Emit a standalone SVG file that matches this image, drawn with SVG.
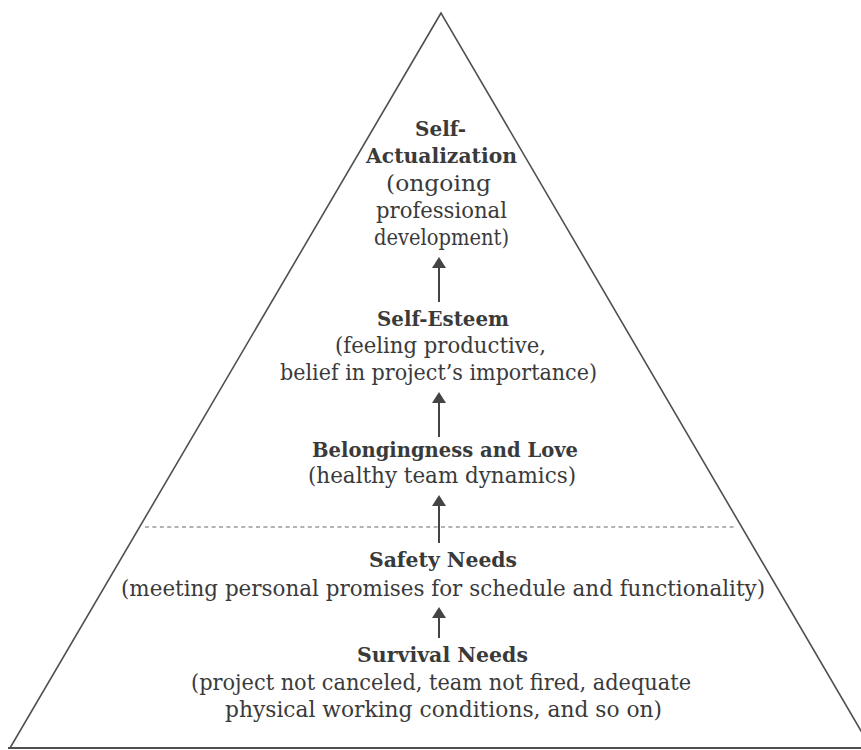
<svg xmlns="http://www.w3.org/2000/svg" width="861" height="750" viewBox="0 0 861 750">
  <style>
    .frame { fill: none; stroke: #505050; stroke-width: 1.6; stroke-linejoin: miter; }
    .base { stroke: #505050; stroke-width: 2.2; }
    .dash { stroke: #9a9a9a; stroke-width: 1.4; stroke-dasharray: 4 3.4; }
    .arrow { stroke: #444; stroke-width: 2; fill: none; }
    text { font-family: "DejaVu Serif", "Liberation Serif", serif; fill: #3a3a3a; text-anchor: middle; }
    .t { font-size: 22px; }
    .b { font-size: 21px; font-weight: bold; }
  </style>
  <defs>
    <marker id="head" markerUnits="userSpaceOnUse" viewBox="0 0 11 14" refX="0" refY="7" markerWidth="11" markerHeight="14" orient="auto">
      <path d="M0,0 L11,7 L0,14 z" fill="#444"/>
    </marker>
  </defs>
  <rect width="861" height="750" fill="#ffffff"/>
  <g id="pyramid">
    <polygon class="frame" points="441,13 10,748 871,748"/>
    <line class="base" x1="8" y1="748" x2="861" y2="748"/>
    <line class="dash" x1="145" y1="527" x2="736" y2="527"/>
  </g>
  <g id="connectors">
    <line class="arrow" x1="439" y1="302" x2="439" y2="268" marker-end="url(#head)"/>
    <line class="arrow" x1="439" y1="437" x2="439" y2="403" marker-end="url(#head)"/>
    <line class="arrow" x1="439" y1="543" x2="439" y2="506" marker-end="url(#head)"/>
    <line class="arrow" x1="439" y1="638" x2="439" y2="618" marker-end="url(#head)"/>
  </g>
  <g id="self-actualization">
    <text class="b" x="440.5" y="136" textLength="51" lengthAdjust="spacingAndGlyphs">Self-</text>
    <text class="b" x="441.5" y="163" textLength="151" lengthAdjust="spacingAndGlyphs">Actualization</text>
    <text class="t" x="438.5" y="191" textLength="105" lengthAdjust="spacingAndGlyphs">(ongoing</text>
    <text class="t" x="441.5" y="218" textLength="131" lengthAdjust="spacingAndGlyphs">professional</text>
    <text class="t" x="441.5" y="245" textLength="135" lengthAdjust="spacingAndGlyphs">development)</text>
  </g>
  <g id="self-esteem">
    <text class="b" x="443" y="326" textLength="132" lengthAdjust="spacingAndGlyphs">Self-Esteem</text>
    <text class="t" x="440.5" y="353" textLength="211" lengthAdjust="spacingAndGlyphs">(feeling productive,</text>
    <text class="t" x="438.5" y="380" textLength="317" lengthAdjust="spacingAndGlyphs">belief in project’s importance)</text>
  </g>
  <g id="belongingness">
    <text class="b" x="445" y="457" textLength="266" lengthAdjust="spacingAndGlyphs">Belongingness and Love</text>
    <text class="t" x="442" y="483" textLength="268" lengthAdjust="spacingAndGlyphs">(healthy team dynamics)</text>
  </g>
  <g id="safety">
    <text class="b" x="443" y="567" textLength="148" lengthAdjust="spacingAndGlyphs">Safety Needs</text>
    <text class="t" x="443" y="596" textLength="644" lengthAdjust="spacingAndGlyphs">(meeting personal promises for schedule and functionality)</text>
  </g>
  <g id="survival">
    <text class="b" x="442.5" y="662" textLength="171" lengthAdjust="spacingAndGlyphs">Survival Needs</text>
    <text class="t" x="441" y="690" textLength="500" lengthAdjust="spacingAndGlyphs">(project not canceled, team not fired, adequate</text>
    <text class="t" x="443.5" y="717" textLength="437" lengthAdjust="spacingAndGlyphs">physical working conditions, and so on)</text>
  </g>
</svg>
